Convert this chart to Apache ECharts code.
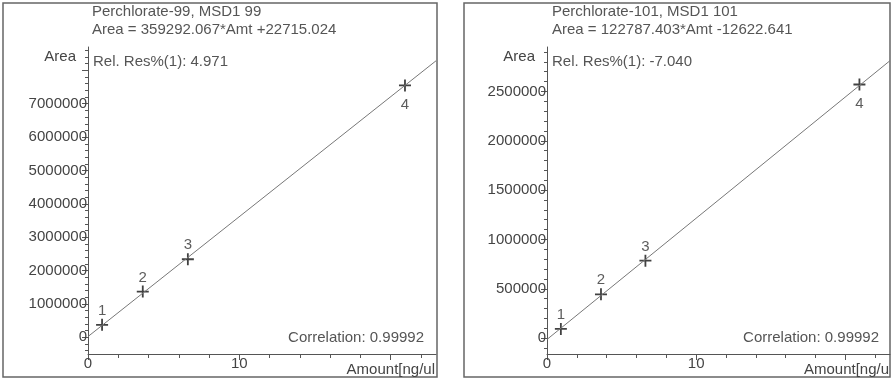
<!DOCTYPE html>
<html>
<head>
<meta charset="utf-8">
<style>
  html, body { margin: 0; padding: 0; background: #fff; }
  #chart { width: 892px; height: 379px; }
</style>
<script src="https://cdn.jsdelivr.net/npm/echarts@6/dist/echarts.min.js"></script>
</head>
<body>
<div id="chart"></div>
<script>
// calibration points, Perchlorate-99
const amt99 = [0.93, 3.62, 6.6, 20.95]
const area99 = [375000, 1370000, 2340000, 7550000]
const fit99 = [[0, 22715.024], [23, 8286432.6]] // fitted line endpoints
const yLabels99 = [0, 1000000, 2000000, 3000000, 4000000, 5000000, 6000000, 7000000]
const yMajor99 = [0, 1000000, 2000000, 3000000, 4000000, 5000000, 6000000, 7000000, 8000000]

// calibration points, Perchlorate-101
const amt101 = [0.93, 3.62, 6.6, 20.95]
const area101 = [94500, 445000, 785000, 2570000]
const fit101 = [[0, -12622.641], [23, 2811487.6]]
const yLabels101 = [0, 500000, 1000000, 1500000, 2000000, 2500000]

const pointNames = ['1', '2', '3', '4']
const xLabels = [0, 10]
const xMajor = [0, 10, 20]
const xMinor = [2, 4, 6, 8, 12, 14, 16, 18, 22]

const font = 'Liberation Sans, Arial, sans-serif'
const textColor = '#444'
const axisColor = '#555'
const fs = 15
const crossPath = 'path://M0,6L12,6M6,0L6,12'

function minorTicks(min, max, step, majors) {
  const out = []
  for (let v = Math.ceil(min / step) * step; v <= max; v += step) {
    if (majors.indexOf(v) < 0) out.push(v)
  }
  return out
}

function panel(i, p) {
  const grid = { left: p.left, top: 47, width: p.width, height: 307 }
  const xAxes = [{
    gridIndex: i, type: 'value', min: 0, max: 23,
    axisLine: { show: true, onZero: false, lineStyle: { color: axisColor, width: 1 } },
    axisTick: { show: true, length: 6, customValues: xMajor, lineStyle: { color: axisColor } },
    axisLabel: { customValues: xLabels, formatter: (v) => String(v), color: textColor, fontFamily: font, fontSize: fs, margin: 2 },
    splitLine: { show: false },
    name: p.xName, nameLocation: 'end', nameGap: -1,
    nameTextStyle: { align: 'right', verticalAlign: 'top', padding: [8, 0, 0, 0], color: textColor, fontFamily: font, fontSize: fs }
  }, {
    gridIndex: i, type: 'value', min: 0, max: 23, position: 'bottom',
    axisLine: { show: false, onZero: false },
    axisTick: { show: true, length: 4, customValues: xMinor, lineStyle: { color: axisColor } },
    axisLabel: { show: false },
    splitLine: { show: false }
  }]
  const yAxes = [{
    gridIndex: i, type: 'value', min: p.yMin, max: p.yMax,
    axisLine: { show: true, onZero: false, lineStyle: { color: axisColor, width: 1 } },
    axisTick: { show: true, length: 6, customValues: p.yMajor, lineStyle: { color: axisColor } },
    axisLabel: { customValues: p.yLabels, formatter: (v) => String(v), color: textColor, fontFamily: font, fontSize: fs, margin: 1 },
    splitLine: { show: false },
    name: 'Area', nameLocation: 'end', nameGap: -10,
    nameTextStyle: { align: 'right', verticalAlign: 'middle', padding: [0, 12, 0, 0], color: textColor, fontFamily: font, fontSize: fs }
  }, {
    gridIndex: i, type: 'value', min: p.yMin, max: p.yMax, position: 'left',
    axisLine: { show: false, onZero: false },
    axisTick: { show: true, length: 3, customValues: minorTicks(p.yMin, p.yMax, p.yStep, p.yMajor), lineStyle: { color: axisColor } },
    axisLabel: { show: false },
    splitLine: { show: false }
  }]
  const points = p.amt.map((a, k) => {
    const last = k === p.amt.length - 1
    return {
      value: [a, p.area[k]],
      label: { position: last ? 'bottom' : 'top', distance: last ? 3 : -2 }
    }
  })
  const series = [{
    type: 'line', xAxisIndex: 2 * i, yAxisIndex: 2 * i,
    data: p.fit, symbol: 'none', silent: true,
    lineStyle: { color: '#777', width: 1 }
  }, {
    type: 'scatter', xAxisIndex: 2 * i, yAxisIndex: 2 * i,
    data: points, symbol: crossPath, symbolSize: 12,
    itemStyle: { color: 'none', borderColor: '#111', borderWidth: 1.8 },
    label: {
      show: true, formatter: (d) => pointNames[d.dataIndex],
      color: '#333', fontFamily: font, fontSize: fs
    }
  }]
  return { grid, xAxes, yAxes, series }
}

const left = panel(0, {
  left: 88, width: 348, xName: 'Amount[ng/ul',
  yMin: -500000, yMax: 8700000, yStep: 200000,
  yMajor: yMajor99, yLabels: yLabels99,
  amt: amt99, area: area99, fit: fit99
})
const right = panel(1, {
  left: 547, width: 343, xName: 'Amount[ng/u',
  yMin: -160000, yMax: 2950000, yStep: 100000,
  yMajor: yLabels101, yLabels: yLabels101,
  amt: amt101, area: area101, fit: fit101
})

function txt(x, y, s, align) {
  return {
    type: 'text', x: x, y: y, silent: true,
    style: { text: s, fill: '#555', font: fs + 'px ' + font, align: align || 'left', verticalAlign: 'middle' }
  }
}

const chart = echarts.init(document.getElementById('chart'))
chart.setOption({
  animation: false,
  grid: [left.grid, right.grid],
  xAxis: left.xAxes.concat(right.xAxes),
  yAxis: left.yAxes.concat(right.yAxes),
  series: left.series.concat(right.series),
  graphic: [
    { type: 'rect', shape: { x: 3, y: 3, width: 434, height: 374 }, style: { fill: 'none', stroke: '#666', lineWidth: 1.5 }, silent: true },
    { type: 'rect', shape: { x: 464, y: 3, width: 426, height: 374 }, style: { fill: 'none', stroke: '#666', lineWidth: 1.5 }, silent: true },
    txt(92, 12, 'Perchlorate-99, MSD1 99'),
    txt(92, 29.5, 'Area = 359292.067*Amt +22715.024'),
    txt(93, 62, 'Rel. Res%(1): 4.971'),
    txt(424, 338, 'Correlation: 0.99992', 'right'),
    txt(552, 12, 'Perchlorate-101, MSD1 101'),
    txt(552, 29.5, 'Area = 122787.403*Amt -12622.641'),
    txt(552, 62, 'Rel. Res%(1): -7.040'),
    txt(879, 338, 'Correlation: 0.99992', 'right')
  ]
})
</script>
</body>
</html>
